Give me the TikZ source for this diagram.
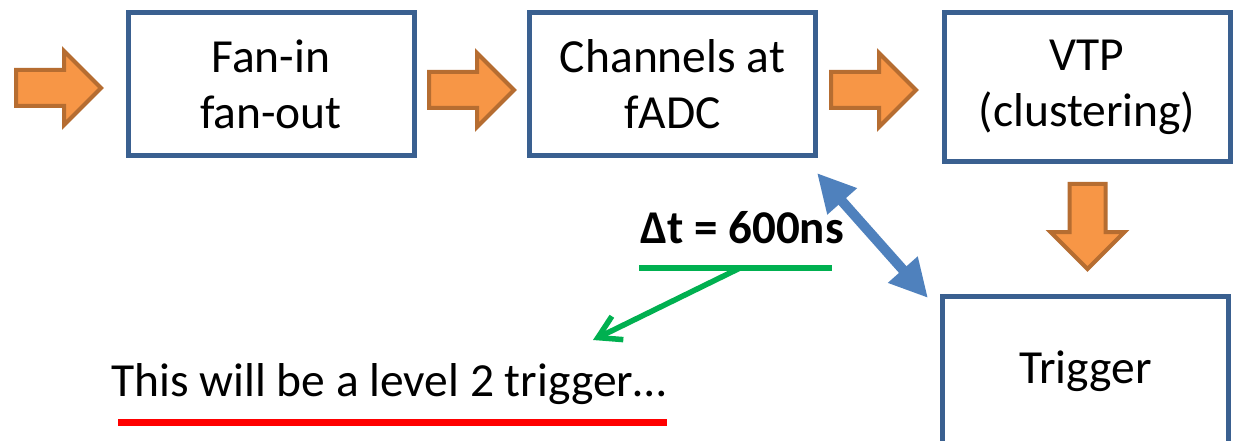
\documentclass[tikz,border=0pt]{standalone}
\usepackage{fontspec}
\setmainfont{Carlito}
\usetikzlibrary{arrows.meta}

\definecolor{boxblue}{HTML}{3A6090}
\definecolor{orfill}{HTML}{F79646}
\definecolor{orline}{HTML}{B66D31}
\definecolor{linkblue}{HTML}{4F81BD}
\definecolor{markgreen}{HTML}{00B050}
\definecolor{markred}{HTML}{FF0000}

% Orange block arrow: tail centre (#1,#2), rotated by #3 degrees
\newcommand{\blockarrow}[3]{%
  \draw[flowarrow, shift={(#1,#2)}, rotate=#3]
    (0,-18) -- (48,-18) -- (48,-37) -- (85,0) -- (48,37) -- (48,18) -- (0,18) -- cycle;}

\begin{document}
\begin{tikzpicture}[x=1pt, y=-1pt,
  stage/.style={draw=boxblue, line width=5pt, minimum width=286pt,
    minimum height=143pt, align=center, inner sep=0pt,
    font=\fontsize{47.5}{56}\selectfont},
  flowarrow/.style={fill=orfill, draw=orline, line width=4pt, line join=miter},
  bigtip/.tip={Triangle[length=38pt, width=37pt]}
]
\clip (0,0) rectangle (1235,441);
\fill[white] (0,0) rectangle (1235,441);

% processing stages
\node[stage] (fan) at (271,84) {Fan-in\\fan-out};
\node[stage] (fadc) at (672.5,84) {Channels at\\fADC};
\node[stage, minimum height=149pt] (vtp) at (1087,87) {VTP\\(clustering)};
\node[stage, minimum height=149pt] (trig) at (1085.5,371) {Trigger};

% flow arrows
\blockarrow{16}{88}{0}
\blockarrow{429}{90}{0}
\blockarrow{831}{90}{0}
\blockarrow{1087.5}{184}{-90}

% latency link between fADC and trigger
\coordinate (latA) at (817,173);
\coordinate (latB) at (928,298);
\draw[draw=linkblue, fill=linkblue, line width=10pt, bigtip-bigtip] (latA) -- (latB);

% latency label and pointer
\node[anchor=base, inner sep=0pt, font=\fontsize{47}{56}\selectfont\bfseries] (dt) at (742,243) {Δt = 600ns};
\coordinate (barL) at (639,268);
\coordinate (barR) at (832,268);
\coordinate (barM) at (740,268);
\draw[markgreen, line width=5.5pt] (barL) -- (barR);

\node[anchor=base west, inner sep=0pt, font=\fontsize{47.5}{56}\selectfont] (note) at (111,396) {This will be a level 2 trigger…};
\coordinate (ptr) at (593,340);
\draw[markgreen, line width=5.5pt, line cap=round,
  -{Straight Barb[length=22pt, width=26pt]}] (barM) -- (ptr);

% underline
\draw[markred, line width=7pt] (118,422.5) -- (667,422.5);
\end{tikzpicture}
\end{document}
